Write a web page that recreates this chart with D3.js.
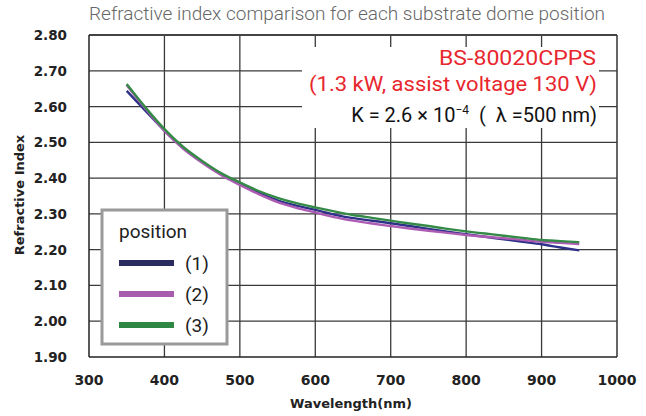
<!DOCTYPE html>
<html>
<head>
<meta charset="utf-8">
<script src="https://cdn.jsdelivr.net/npm/d3@7.9.0/dist/d3.min.js"></script>
<style>
  body { margin: 0; background: #fff; }
  svg { display: block; }
</style>
</head>
<body>
<svg id="chart" width="646" height="416"></svg>
<script>
// wavelengths (nm) every 25 nm
const wavelengths = [350, 375, 400, 425, 450, 475, 500, 525, 550, 575, 600, 625, 650,
  675, 700, 725, 750, 775, 800, 825, 850, 875, 900, 925, 950];

const pos1 = [2.644, 2.588, 2.533, 2.484, 2.445, 2.411, 2.384, 2.359, 2.338, 2.323, 2.311, 2.298, 2.288,
  2.281, 2.274, 2.266, 2.258, 2.250, 2.243, 2.236, 2.229, 2.222, 2.215, 2.206, 2.198];
const pos2 = [2.660, 2.594, 2.532, 2.482, 2.443, 2.409, 2.381, 2.355, 2.333, 2.317, 2.304, 2.291, 2.281,
  2.273, 2.266, 2.259, 2.253, 2.247, 2.241, 2.236, 2.232, 2.227, 2.222, 2.219, 2.216];
const pos3 = [2.663, 2.597, 2.537, 2.487, 2.448, 2.414, 2.388, 2.364, 2.345, 2.330, 2.318, 2.307, 2.297,
  2.289, 2.281, 2.273, 2.266, 2.258, 2.251, 2.245, 2.239, 2.233, 2.227, 2.224, 2.221];

const seriesNames = ['(1)', '(2)', '(3)'];
const xTicks = [300, 400, 500, 600, 700, 800, 900, 1000];
const yTicks = [1.9, 2.0, 2.1, 2.2, 2.3, 2.4, 2.5, 2.6, 2.7, 2.8];

const colors = ['#2d3188', '#ad5cb3', '#358a47'];
const legendColors = ['#2a2b5e', '#a85cae', '#2f8744'];

const svg = d3.select('#chart');

const x = d3.scaleLinear().domain([300, 1000]).range([89, 617]);
const y = d3.scaleLinear().domain([1.9, 2.8]).range([357, 35]);

// title
svg.append('text')
  .attr('x', 89).attr('y', 20)
  .attr('textLength', 516).attr('lengthAdjust', 'spacingAndGlyphs')
  .style('font-family', 'Roboto, sans-serif')
  .style('font-weight', 300)
  .style('font-size', '18px')
  .style('fill', '#666')
  .text('Refractive index comparison for each substrate dome position');

// grid
const grid = svg.append('g');
grid.selectAll('line.v')
  .data(xTicks.slice(1, -1))
  .join('line')
  .attr('x1', (d) => x(d)).attr('x2', (d) => x(d))
  .attr('y1', y(2.8)).attr('y2', y(1.9))
  .attr('stroke', '#3a3a3a').attr('stroke-width', 1.3);
grid.selectAll('line.h')
  .data(yTicks.slice(1, -1))
  .join('line')
  .attr('x1', x(300)).attr('x2', x(1000))
  .attr('y1', (d) => y(d)).attr('y2', (d) => y(d))
  .attr('stroke', '#3a3a3a').attr('stroke-width', 1.3);

// white block behind the annotation
svg.append('rect')
  .attr('x', 302).attr('y', 47).attr('width', 297).attr('height', 81)
  .attr('fill', '#fff');

// frame
svg.append('line').attr('x1', x(300)).attr('x2', x(1000)).attr('y1', y(2.8)).attr('y2', y(2.8))
  .attr('stroke', '#444').attr('stroke-width', 2);
svg.append('line').attr('x1', x(1000)).attr('x2', x(1000)).attr('y1', y(2.8)).attr('y2', y(1.9))
  .attr('stroke', '#333').attr('stroke-width', 1.5);
svg.append('line').attr('x1', x(300)).attr('x2', x(1000)).attr('y1', y(1.9)).attr('y2', y(1.9))
  .attr('stroke', '#222').attr('stroke-width', 1.5);
svg.append('line').attr('x1', x(300)).attr('x2', x(300)).attr('y1', y(2.8)).attr('y2', y(1.9))
  .attr('stroke', '#222').attr('stroke-width', 1.5);

// axes labels
const axisFont = 'DejaVu Sans, sans-serif';
svg.append('g').selectAll('text')
  .data(yTicks)
  .join('text')
  .attr('x', 67).attr('y', (d) => y(d) + 5)
  .attr('text-anchor', 'end')
  .style('font-family', axisFont).style('font-weight', 'bold').style('font-size', '13.5px')
  .style('fill', '#222')
  .text((d) => d.toFixed(2));

svg.append('g').selectAll('text')
  .data(xTicks)
  .join('text')
  .attr('x', (d) => x(d)).attr('y', 385)
  .attr('text-anchor', 'middle')
  .style('font-family', axisFont).style('font-weight', 'bold').style('font-size', '14px')
  .style('fill', '#222')
  .text((d) => d);

svg.append('text')
  .attr('x', 351).attr('y', 408)
  .attr('text-anchor', 'middle')
  .style('font-family', axisFont).style('font-weight', 'bold').style('font-size', '13px')
  .style('fill', '#222')
  .text('Wavelength(nm)');

svg.append('text')
  .attr('transform', 'translate(24,195) rotate(-90)')
  .attr('text-anchor', 'middle')
  .style('font-family', axisFont).style('font-weight', 'bold').style('font-size', '13px')
  .style('fill', '#222')
  .text('Refractive Index');

// series
const series = [pos1, pos2, pos3];
const line = d3.line()
  .x((d, i) => x(wavelengths[i]))
  .y((d) => y(d))
  .curve(d3.curveMonotoneX);

svg.append('g').selectAll('path')
  .data(series)
  .join('path')
  .attr('d', line)
  .attr('fill', 'none')
  .attr('stroke', (d, i) => colors[i])
  .attr('stroke-width', 2.4)
  .attr('stroke-linejoin', 'round');

// annotation
const annoFont = 'Roboto, "Noto Sans", sans-serif';
svg.append('text')
  .attr('x', 596).attr('y', 65).attr('text-anchor', 'end')
  .attr('textLength', 157).attr('lengthAdjust', 'spacingAndGlyphs')
  .style('font-family', annoFont).style('font-size', '20px').style('fill', '#e8262e')
  .text('BS-80020CPPS');
svg.append('text')
  .attr('x', 597).attr('y', 91).attr('text-anchor', 'end')
  .attr('textLength', 288).attr('lengthAdjust', 'spacingAndGlyphs')
  .style('font-family', annoFont).style('font-size', '20px').style('fill', '#e8262e')
  .text('(1.3 kW, assist voltage 130 V)');
const kText = svg.append('text')
  .attr('x', 597).attr('y', 122).attr('text-anchor', 'end')
  .style('font-family', annoFont).style('font-size', '20px').style('fill', '#111');
kText.append('tspan').text('K = 2.6 × 10');
kText.append('tspan').attr('dy', -8).style('font-size', '12px').text('−4');
kText.append('tspan').attr('dy', 8).text('\u00a0\u00a0(\u00a0\u00a0λ =500 nm)');

// legend
const legend = svg.append('g');
legend.append('rect')
  .attr('x', 102).attr('y', 210).attr('width', 125).attr('height', 134)
  .attr('fill', '#fff').attr('stroke', '#9a9a9a').attr('stroke-width', 3);
legend.append('text')
  .attr('x', 119).attr('y', 238)
  .style('font-family', annoFont).style('font-size', '19px').style('fill', '#222')
  .text('position');
const legendY = [263, 294, 325];
seriesNames.forEach((name, i) => {
  legend.append('line')
    .attr('x1', 119).attr('x2', 174)
    .attr('y1', legendY[i]).attr('y2', legendY[i])
    .attr('stroke', legendColors[i]).attr('stroke-width', 6);
  legend.append('text')
    .attr('x', 185).attr('y', legendY[i] + 7)
    .style('font-family', annoFont).style('font-size', '19px').style('fill', '#222')
    .text(name);
});
</script>
</body>
</html>
